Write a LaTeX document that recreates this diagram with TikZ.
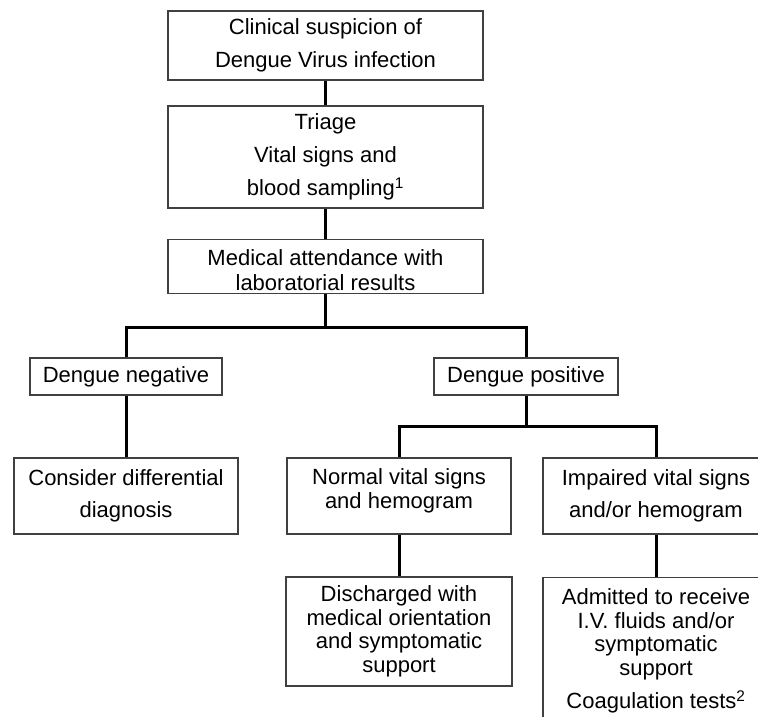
\documentclass[tikz,border=0pt]{standalone}
\usepackage{fontspec}
\setmainfont{Liberation Sans}
\begin{document}
\begin{tikzpicture}[x=1pt,y=-1pt,
  box/.style={draw=black!75, line width=1.2pt, align=center, inner sep=0pt},
  txt/.style={align=center, inner sep=0pt},
  conn/.style={line width=3pt, black},
  ls33/.style={font=\fontsize{22}{33}\selectfont},
  ls32/.style={font=\fontsize{22}{32}\selectfont},
  ls25/.style={font=\fontsize{22}{25}\selectfont},
  ls23/.style={font=\fontsize{22}{23.5}\selectfont}]
\useasboundingbox (0,0) rectangle (758,716);
\clip (0,0) rectangle (758,716);
\node[box, ls33, minimum width=315, minimum height=69] (b1) at (325.5,45.5) {Clinical suspicion of\\Dengue Virus infection};
\node[box, ls33, minimum width=315, minimum height=102] (b2) at (325.5,157) {Triage\\Vital signs and\\blood sampling\textsuperscript{1}};
\node[box, minimum width=315, minimum height=54] (b3) at (325.5,266.5) {};
\node[txt, ls25] (b3t) at (325.5,270.5) {Medical attendance with\\laboratorial results};
\node[box, ls33, minimum width=192, minimum height=37] (neg) at (126,376.5) {Dengue negative};
\node[box, ls33, minimum width=184, minimum height=37] (pos) at (526,376.5) {Dengue positive};
\node[box, ls32, minimum width=224, minimum height=76] (cons) at (126,496) {Consider differential\\diagnosis};
\node[box, minimum width=224, minimum height=76] (norm) at (399,496) {};
\node[txt, ls23] (normt) at (399,491) {Normal vital signs\\and hemogram};
\node[box, ls32, minimum width=226, minimum height=76] (imp) at (656,496) {Impaired vital signs\\and/or hemogram};
\node[box, ls23, minimum width=226, minimum height=109] (dis) at (399,631.5) {Discharged with\\medical orientation\\and symptomatic\\support};
\node[box, ls23, minimum width=226, anchor=north, inner ysep=11pt] (adm) at (656,577) {Admitted to receive\\I.V. fluids and/or\\symptomatic\\support\\[10pt]Coagulation tests\textsuperscript{2}};
\coordinate (j1) at (325.5,327);
\coordinate (j2) at (526,426);
\draw[conn] (b1.south) -- (b2.north);
\draw[conn] (b2.south) -- (b3.north);
\draw[conn] (b3.south) -- (j1);
\draw[conn] (neg.north) |- (j1) -| (pos.north);
\draw[conn] (neg.south) -- (cons.north);
\draw[conn] (pos.south) -- (j2);
\draw[conn] (norm.north) |- (j2) -| (imp.north);
\draw[conn] (norm.south) -- (dis.north);
\draw[conn] (imp.south) -- (adm.north);
\end{tikzpicture}
\end{document}
